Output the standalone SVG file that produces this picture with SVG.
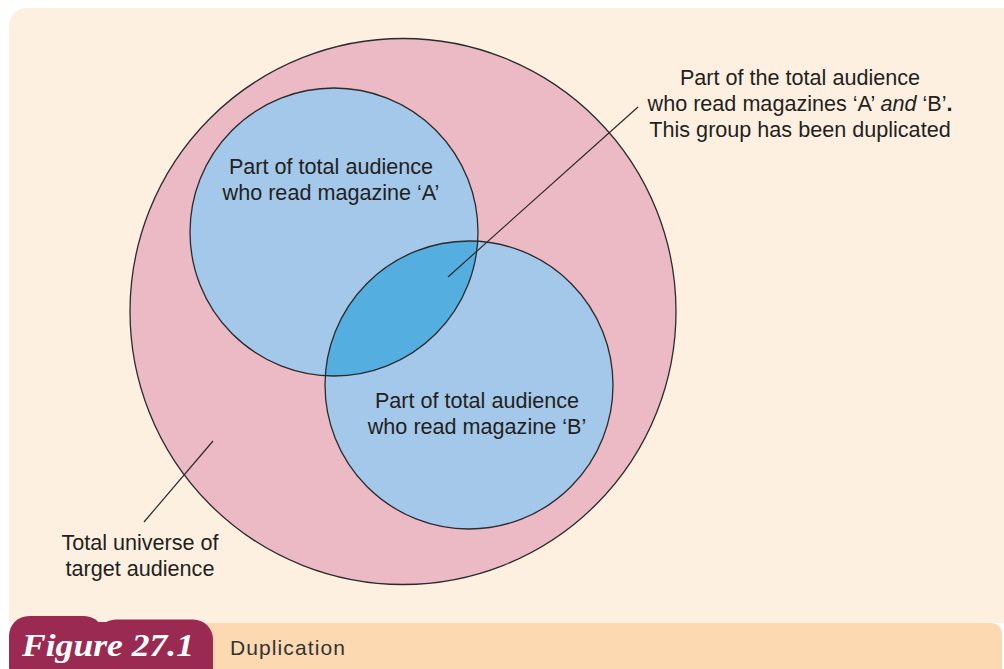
<svg xmlns="http://www.w3.org/2000/svg" width="1004" height="669" viewBox="0 0 1004 669">
  <style>
    .label { font-family: "Liberation Sans", Arial, sans-serif; font-size: 21.6px; fill: #231f20; text-anchor: middle; }
    .ring { stroke: #2b2b2b; stroke-width: 1.3; }
    .leader { stroke: #2b2b2b; stroke-width: 1.2; fill: none; }
  </style>

  <!-- page panel and caption band -->
  <rect x="0" y="0" width="1004" height="669" fill="#ffffff"/>
  <path d="M9 623 V28 Q9 8 29 8 H1004 V623 Z" fill="#fdf0e1"/>
  <path d="M190 623 H990 Q1002 623 1002 635 V669 H190 Z" fill="#fcd9b1"/>

  <!-- figure badge -->
  <g id="badge">
    <rect x="9" y="616" width="95" height="70" rx="20" fill="#9b2a53"/>
    <rect x="96" y="619.5" width="117" height="70" rx="20" fill="#9b2a53"/>
    <rect x="70" y="622" width="50" height="50" fill="#9b2a53"/>
    <text x="22" y="656" textLength="172" lengthAdjust="spacingAndGlyphs" font-family="'Liberation Serif', 'Times New Roman', serif" font-style="italic" font-weight="bold" font-size="31" fill="#ffffff">Figure 27.1</text>
  </g>
  <text id="caption" x="230" y="655" font-family="'Liberation Sans', Arial, sans-serif" font-size="21" letter-spacing="1.1" fill="#333333">Duplication</text>

  <!-- total universe -->
  <g id="universe">
    <circle cx="403" cy="311.5" r="273" fill="#ecbac5" class="ring"/>
  </g>

  <!-- readers of A and B -->
  <g id="circle-a">
    <circle cx="334" cy="232" r="144" fill="#a3c8ea"/>
  </g>
  <g id="circle-b">
    <circle cx="469" cy="385" r="144" fill="#a3c8ea"/>
  </g>
  <g id="overlap">
    <path d="M477.7 241.3 A144 144 0 0 1 325.3 375.7 A144 144 0 0 1 477.7 241.3 Z" fill="#55aee0"/>
  </g>
  <g id="outlines" fill="none">
    <circle cx="334" cy="232" r="144" class="ring"/>
    <circle cx="469" cy="385" r="144" class="ring"/>
  </g>

  <!-- leader lines -->
  <g id="connectors">
    <line x1="448" y1="277" x2="638" y2="107" class="leader"/>
    <line x1="144" y1="522" x2="213" y2="441" class="leader"/>
  </g>

  <!-- labels -->
  <g id="label-a">
    <text class="label" x="331" y="174">Part of total audience</text>
    <text class="label" x="331" y="200">who read magazine ‘A’</text>
  </g>
  <g id="label-b">
    <text class="label" x="477" y="408">Part of total audience</text>
    <text class="label" x="477" y="434">who read magazine ‘B’</text>
  </g>
  <g id="label-overlap">
    <text class="label" x="800" y="85">Part of the total audience</text>
    <text class="label" x="800" y="111">who read magazines ‘A’ <tspan font-style="italic">and</tspan> ‘B’<tspan font-weight="bold">.</tspan></text>
    <text class="label" x="800" y="137">This group has been duplicated</text>
  </g>
  <g id="label-universe">
    <text class="label" x="140" y="550">Total universe of</text>
    <text class="label" x="140" y="576">target audience</text>
  </g>
</svg>
